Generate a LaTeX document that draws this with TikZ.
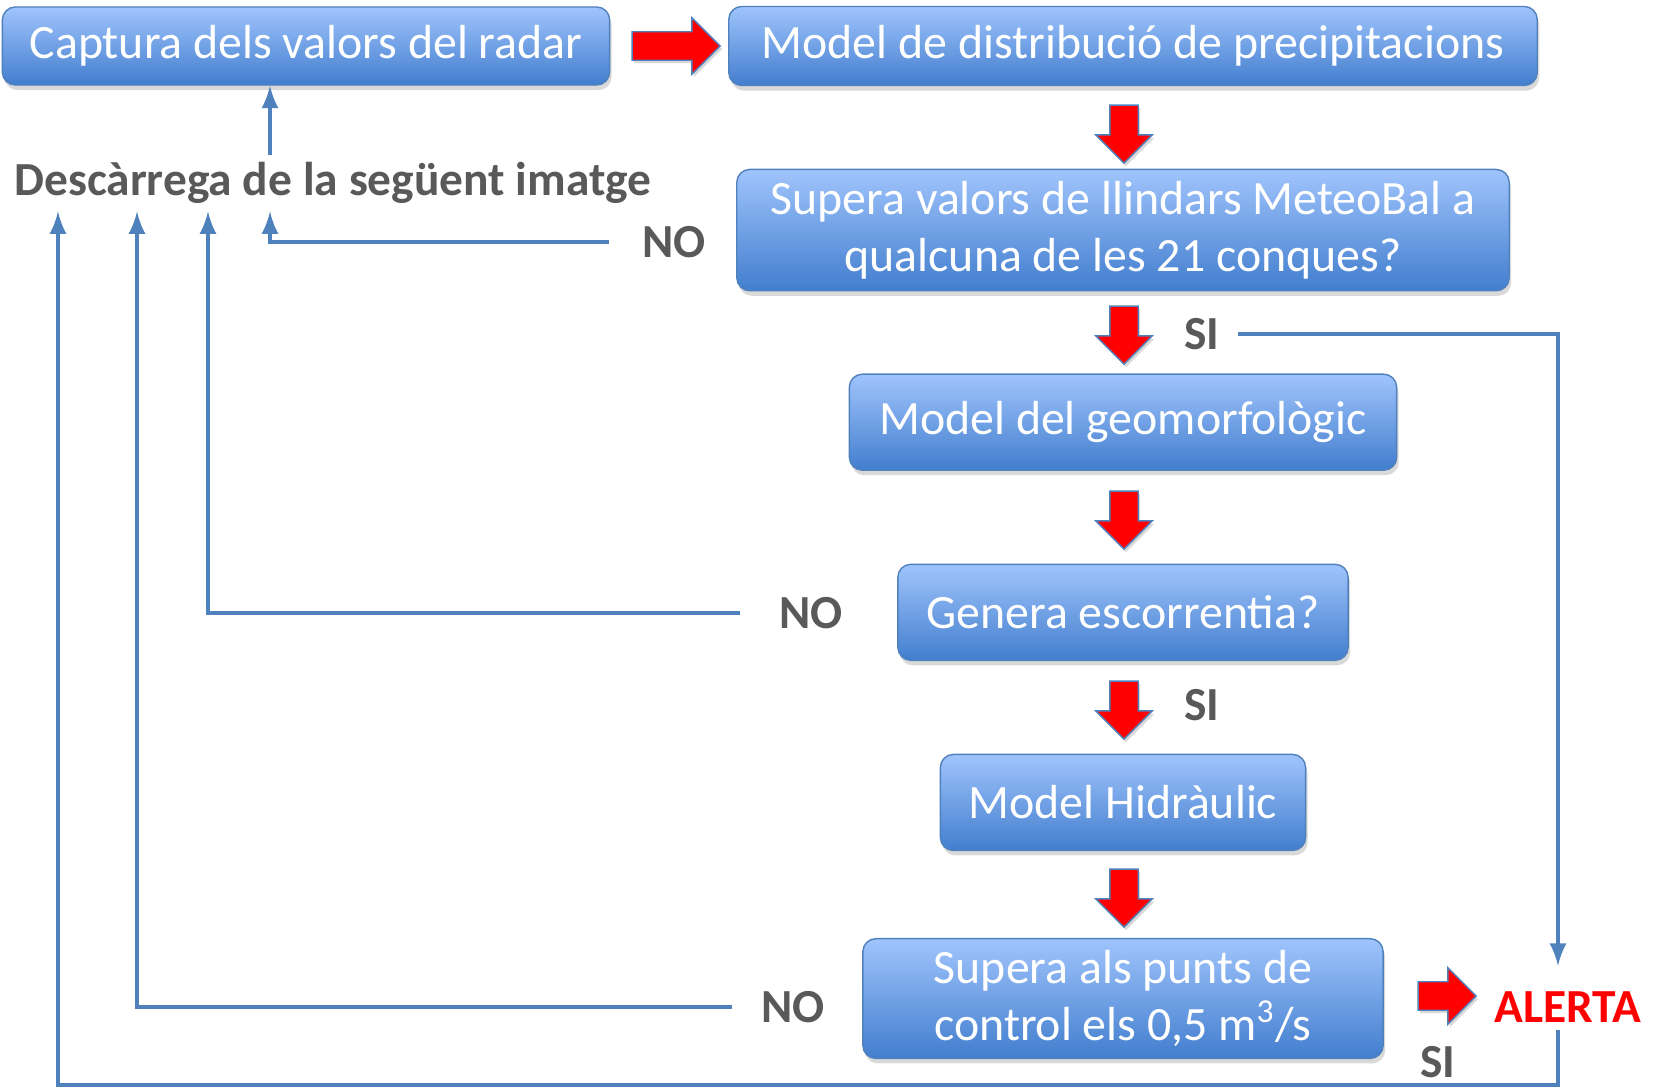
\documentclass[tikz,border=0pt]{standalone}
\usepackage{fontspec}
\setmainfont{Carlito}
\usepackage{tikz}
\usetikzlibrary{shapes.arrows, arrows, shadows}
\definecolor{boxline}{RGB}{79,129,189}
\definecolor{boxtop}{RGB}{160,196,252}
\definecolor{boxbot}{RGB}{66,126,206}
\definecolor{lblgray}{RGB}{89,89,89}
\tikzstyle{box} = [rectangle, rounded corners=0.13cm, draw=boxline, top color=boxtop, bottom color=boxbot, text=white, font=\fontsize{13.6}{16.2}\selectfont, align=center, drop shadow={shadow xshift=0.02cm, shadow yshift=-0.05cm, opacity=0.3}]
\tikzstyle{lbl} = [text=lblgray, font=\fontsize{13.5}{16.2}\selectfont\bfseries, inner sep=2pt]
\tikzstyle{bigarrow} = [single arrow, draw=boxline, fill=red, minimum width=0.55cm, minimum height=0.58cm, single arrow head extend=0.14cm, inner xsep=0pt, inner ysep=0.135cm, drop shadow={shadow xshift=0.02cm, shadow yshift=-0.03cm, opacity=0.3}]
\tikzstyle{fb} = [draw=boxline, line width=1.2pt, ->, >=latex]

\begin{document}
\begin{tikzpicture}[x=0.01cm, y=-0.01cm, node distance=1.9cm]
        \useasboundingbox (0,0) rectangle (1657,1088);
        \node (cap) [box, minimum width=6.07cm, minimum height=0.78cm] at (306,46) {Captura dels valors del radar};
        \node (dist) [box, minimum width=8.08cm, minimum height=0.79cm] at (1133,46) {Model de distribució de precipitacions};
        \node (llin) [box, below of=dist, xshift=-0.1cm, yshift=0.06cm, minimum width=7.72cm, minimum height=1.14cm] {Supera valors de llindars MeteoBal a\\qualcuna de les 21 conques?};
        \node (geo) [box, below of=llin, yshift=-0.02cm, minimum width=5.47cm, minimum height=0.96cm] {Model del geomorfològic};
        \node (esc) [box, below of=geo, minimum width=4.5cm, minimum height=0.96cm] {Genera escorrentia?};
        \node (hid) [box, below of=esc, minimum width=3.65cm, minimum height=0.96cm] {Model Hidràulic};
        \node (punts) [box, below of=hid, yshift=-0.06cm, minimum width=5.2cm, minimum height=1.16cm] {Supera als punts de\\control els 0,5 m\textsuperscript{3}/s};
        \node (desc) [lbl] at (333,183) {Descàrrega de la següent imatge};
        \node (no1) [lbl] at (674,242) {NO};
        \node (no2) [lbl] at (811,613) {NO};
        \node (no3) [lbl] at (793,1007) {NO};
        \node (si1) [lbl] at (1202,334) {SI};
        \node (si2) [lbl] at (1202,705) {SI};
        \node (si3) [lbl] at (1438,1062) {SI};
        \node (alerta) [lbl, text=red] at (1568,1007) {ALERTA};
        % red block arrows
        \node (ar1) [bigarrow, minimum height=0.88cm] at (669,46) {};
        \node (ar2) [bigarrow, rotate=-90] at (1124,127) {};
        \node (ar3) [bigarrow, rotate=-90] at (1124,328) {};
        \node (ar4) [bigarrow, rotate=-90] at (1124,513) {};
        \node (ar5) [bigarrow, rotate=-90] at (1124,703) {};
        \node (ar6) [bigarrow, rotate=-90] at (1124,891) {};
        \node (ar7) [bigarrow] at (1440,996) {};
        % return lines
        \coordinate (c1) at (58,0);
        \coordinate (c2) at (137,0);
        \coordinate (c3) at (208,0);
        \coordinate (c4) at (270,0);
        \coordinate (c5) at (1558,0);
        \coordinate (bot) at (0,1085);
        \draw [fb] (desc.north -| c4) -- (cap.south -| c4);
        \draw [fb, shorten <=0.26cm] (no1.west) -| (desc.south -| c4);
        \draw [fb, shorten <=0.32cm] (no2.west) -| (desc.south -| c3);
        \draw [fb, shorten <=0.22cm] (no3.west) -| (desc.south -| c2);
        \draw [fb, shorten <=0.11cm, shorten >=0.18cm] (si1.east) -| (alerta.north -| c5);
        \draw [fb] (alerta.south -| c5) -- (c5 |- bot) -| (desc.south -| c1);
\end{tikzpicture}
\end{document}
